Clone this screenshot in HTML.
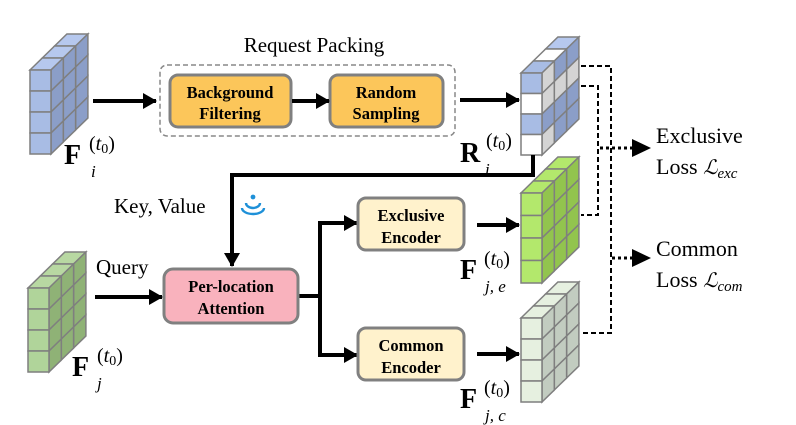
<!DOCTYPE html>
<html><head><meta charset="utf-8"><style>
html,body{margin:0;padding:0;background:#fff;}
svg{display:block;}
.s{font-family:"Liberation Serif",serif;}
.b{font-family:"Liberation Serif",serif;font-weight:bold;font-size:16.5px;}
</style></head><body>
<svg id="d" width="796" height="425" viewBox="0 0 796 425" xmlns="http://www.w3.org/2000/svg">
<defs>
<marker id="ah2" markerWidth="14" markerHeight="16" refX="13" refY="8" orient="auto" markerUnits="userSpaceOnUse"><path d="M0,0 L14,8 L0,16 z" fill="#000"/></marker>
</defs>
<g id="cubes"></g>
<text x="314" y="52" class="s" font-size="21" text-anchor="middle">Request Packing</text>
<rect x="160" y="65" width="295" height="71" rx="7" fill="none" stroke="#888" stroke-width="1.5" stroke-dasharray="5,3"/>
<rect x="170" y="75" width="121" height="52" rx="8" fill="#fcc65a" stroke="#808080" stroke-width="3"/>
<text x="230" y="98" class="b" text-anchor="middle">Background</text>
<text x="230" y="119" class="b" text-anchor="middle">Filtering</text>
<rect x="330" y="75" width="113" height="52" rx="8" fill="#fcc65a" stroke="#808080" stroke-width="3"/>
<text x="386" y="98" class="b" text-anchor="middle">Random</text>
<text x="386" y="119" class="b" text-anchor="middle">Sampling</text>
<g stroke="#000" stroke-width="4" fill="none">
<line x1="93" y1="101" x2="156" y2="101" marker-end="url(#ah2)"/>
<line x1="292" y1="101" x2="329" y2="101" marker-end="url(#ah2)"/>
<line x1="460" y1="100" x2="519" y2="100" marker-end="url(#ah2)"/>
<polyline points="533,155 533,175 232,175 232,266" marker-end="url(#ah2)"/>
<line x1="95" y1="297" x2="162" y2="297" marker-end="url(#ah2)"/>
<polyline points="298,296 320,296"/>
<polyline points="355,223 320,223 320,355 355,355"/>
<line x1="320" y1="223" x2="357" y2="223" marker-end="url(#ah2)"/>
<line x1="320" y1="355" x2="357" y2="355" marker-end="url(#ah2)"/>
<line x1="477" y1="225" x2="519" y2="225" marker-end="url(#ah2)"/>
<line x1="477" y1="354" x2="519" y2="354" marker-end="url(#ah2)"/>
</g>
<text x="114" y="213" class="s" font-size="21">Key, Value</text>
<circle cx="253" cy="197" r="2.4" fill="#1e90d8"/>
<path d="M246,203 a7,5 0 0 0 14,0" fill="none" stroke="#1e90d8" stroke-width="2.4"/>
<path d="M242,208 a11,6 0 0 0 22,0" fill="none" stroke="#1e90d8" stroke-width="2.4"/>
<text x="96" y="274" class="s" font-size="21">Query</text>
<rect x="164" y="269" width="134" height="54" rx="9" fill="#f9b2bd" stroke="#808080" stroke-width="3"/>
<text x="231" y="292" class="b" text-anchor="middle">Per-location</text>
<text x="231" y="314" class="b" text-anchor="middle">Attention</text>
<rect x="358" y="198" width="106" height="52" rx="8" fill="#fff2cc" stroke="#808080" stroke-width="3"/>
<text x="411" y="221" class="b" text-anchor="middle">Exclusive</text>
<text x="411" y="243" class="b" text-anchor="middle">Encoder</text>
<rect x="358" y="328" width="106" height="52" rx="8" fill="#fff2cc" stroke="#808080" stroke-width="3"/>
<text x="411" y="351" class="b" text-anchor="middle">Common</text>
<text x="411" y="373" class="b" text-anchor="middle">Encoder</text>
<g stroke="#000" stroke-width="2" fill="none" stroke-dasharray="5,3">
<polyline points="581,66 611,66 611,333 581,333"/>
<polyline points="581,86 598,86 598,215 581,215"/>
</g>
<g stroke="#000" stroke-width="3" fill="none" stroke-dasharray="3,3">
<line x1="600" y1="148" x2="636" y2="148"/>
<line x1="612" y1="258" x2="636" y2="258"/>
</g>
<path d="M632,139 L651,148 L632,157 z"/>
<path d="M632,249 L651,258 L632,267 z"/>
<text x="656" y="143" class="s" font-size="22">Exclusive</text>
<text x="656" y="174" class="s" font-size="22">Loss <tspan font-style="italic" font-family="DejaVu Serif,serif" font-size="20">ℒ</tspan><tspan font-style="italic" font-size="15" dy="4">exc</tspan></text>
<text x="656" y="256" class="s" font-size="22">Common</text>
<text x="656" y="287" class="s" font-size="22">Loss <tspan font-style="italic" font-family="DejaVu Serif,serif" font-size="20">ℒ</tspan><tspan font-style="italic" font-size="15" dy="4">com</tspan></text>
<g class="s">
<text x="64" y="164" font-size="28" font-weight="bold">F</text><text x="91" y="177" font-size="17" font-style="italic">i</text><text x="89" y="150" font-size="20">(<tspan font-style="italic">t</tspan><tspan font-size="14" dy="3">0</tspan><tspan dy="-3">)</tspan></text>
<text x="460" y="162" font-size="28" font-weight="bold">R</text><text x="485" y="175" font-size="17" font-style="italic">i</text><text x="486" y="147" font-size="20">(<tspan font-style="italic">t</tspan><tspan font-size="14" dy="3">0</tspan><tspan dy="-3">)</tspan></text>
<text x="460" y="279" font-size="28" font-weight="bold">F</text><text x="485" y="292" font-size="17" font-style="italic">j, e</text><text x="484" y="265" font-size="20">(<tspan font-style="italic">t</tspan><tspan font-size="14" dy="3">0</tspan><tspan dy="-3">)</tspan></text>
<text x="460" y="408" font-size="28" font-weight="bold">F</text><text x="485" y="421" font-size="17" font-style="italic">j, c</text><text x="484" y="394" font-size="20">(<tspan font-style="italic">t</tspan><tspan font-size="14" dy="3">0</tspan><tspan dy="-3">)</tspan></text>
<text x="72" y="376" font-size="28" font-weight="bold">F</text><text x="97" y="389" font-size="17" font-style="italic">j</text><text x="97" y="362" font-size="20">(<tspan font-style="italic">t</tspan><tspan font-size="14" dy="3">0</tspan><tspan dy="-3">)</tspan></text>
</g>
</svg>
<script>
(function(){
var g=document.getElementById('cubes'),NS='http://www.w3.org/2000/svg';
function poly(pts,fill){var p=document.createElementNS(NS,'polygon');p.setAttribute('points',pts.map(function(a){return a[0].toFixed(1)+','+a[1].toFixed(1)}).join(' '));p.setAttribute('fill',fill);p.setAttribute('stroke','#7f7f7f');p.setAttribute('stroke-width','1.5');g.appendChild(p);}
function cube(x0,y0,h,front,side,top){
 var w=21,dx=12.3,dy=-12;
 for(var k=2;k>=0;k--){
  poly([[x0+k*dx,y0+k*dy],[x0+w+k*dx,y0+k*dy],[x0+w+(k+1)*dx,y0+(k+1)*dy],[x0+(k+1)*dx,y0+(k+1)*dy]],top(k));
 }
 for(var k=2;k>=0;k--){
  for(var r=0;r<4;r++){
   var xa=x0+w+k*dx,ya=y0+r*h+k*dy;
   poly([[xa,ya],[xa+dx,ya+dy],[xa+dx,ya+dy+h],[xa,ya+h]],side(k,r));
  }
 }
 for(var r=0;r<4;r++)poly([[x0,y0+r*h],[x0+w,y0+r*h],[x0+w,y0+(r+1)*h],[x0,y0+(r+1)*h]],front(r));
}
function c(v){return function(){return v;};}
cube(30,70,21,c('#a8bce4'),c('#8b9ec8'),c('#b6c8ee'));
cube(28,288,21,c('#b0d49a'),c('#8fb276'),c('#b8d8a2'));
var rf=['#a8bce4','#ffffff','#a8bce4','#ffffff'];
var rs=[['#d4d4d4','#d4d4d4','#8b9ec8','#d4d4d4'],['#8b9ec8','#d4d4d4','#8b9ec8','#8b9ec8'],['#8b9ec8','#d4d4d4','#8b9ec8','#8b9ec8']];
cube(521,73,20.5,function(r){return rf[r];},function(k,r){return rs[k][r];},function(k){return ['#a8bce4','#ffffff','#b6c8ee'][k];});
cube(521,193,22.5,c('#b3e86c'),c('#92c44e'),c('#b3e86c'));
cube(521,318,21,c('#e6f0e0'),c('#c2ccc0'),c('#e6f0e0'));
})();
</script>
</body></html>
